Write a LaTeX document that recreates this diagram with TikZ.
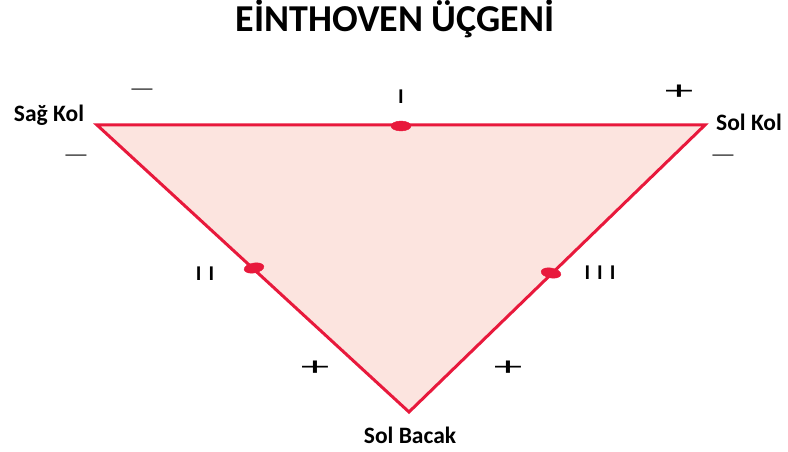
\documentclass[tikz,border=0pt]{standalone}
\usepackage{fontspec}
\usepackage{graphicx}
\setmainfont{Carlito}
\definecolor{ekgred}{HTML}{E8193C}
\definecolor{ekgfill}{HTML}{FCE4DF}
\tikzset{
  lbl/.style={font=\bfseries\fontsize{23.5}{26}\selectfont, inner sep=0pt},
  roman/.style={font=\bfseries\fontsize{21}{24}\selectfont, inner sep=0pt},
  sgn/.style={font=\fontsize{22}{24}\selectfont, inner sep=0pt},
  lead/.style={draw=ekgred, fill=ekgred, ellipse, minimum width=20pt, minimum height=10pt, inner sep=0pt},
}
\usetikzlibrary{shapes.geometric}
\begin{document}
\begin{tikzpicture}[x=1pt,y=-1pt]
\useasboundingbox (0,0) rectangle (788,452);
\coordinate (RA) at (97,125);
\coordinate (LA) at (705,125);
\coordinate (LL) at (409,412);
\draw[ekgred, line width=3pt, fill=ekgfill, line join=miter] (RA) -- (LA) -- (LL) -- cycle;
\node[lead] (d1) at (401,126) {};
\node[lead, rotate=10] (d2) at (254,268) {};
\node[lead, rotate=-10] (d3) at (551,273) {};
\node[font=\bfseries\fontsize{38}{44}\selectfont, inner sep=0pt] (title) at (395,19) {EİNTHOVEN ÜÇGENİ};
\node[lbl] (ra) at (49,115) {Sağ Kol};
\node[lbl] (la) at (749,122) {Sol Kol};
\node[lbl] (ll) at (410,435) {Sol Bacak};
\node[roman] (r1) at (401,97) {I};
\node[roman] (r2) at (205,274) {I\hspace{7pt}I};
\node[roman] (r3) at (600,273) {I\hspace{7pt}I\hspace{7pt}I};
\node[sgn] (m1) at (142,92) {\scalebox{1.3}[0.8]{—}};
\node[sgn] (m2) at (76,158) {\scalebox{1.3}[0.8]{—}};
\node[sgn] (m3) at (723,158) {\scalebox{1.3}[0.8]{—}};
\node[sgn] (p1) at (679,92) {\scalebox{2.6}[1.2]{+}};
\node[sgn] (p2) at (315,368) {\scalebox{2.6}[1.2]{+}};
\node[sgn] (p3) at (508,368) {\scalebox{2.6}[1.2]{+}};
\end{tikzpicture}
\end{document}
